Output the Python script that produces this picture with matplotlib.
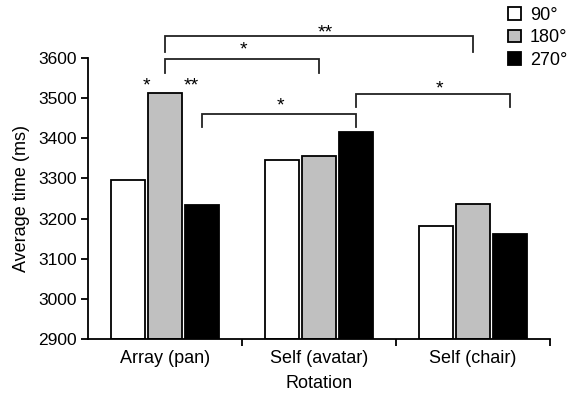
import matplotlib.pyplot as plt
from matplotlib.patches import Patch

plt.rcParams['font.family'] = ['Liberation Sans', 'DejaVu Sans']

categories = ['Array (pan)', 'Self (avatar)', 'Self (chair)']
series = ['90°', '180°', '270°']
values_90 = [3297, 3347, 3181]
values_180 = [3512, 3355, 3236]
values_270 = [3233, 3417, 3162]
colors = ['white', '#c0c0c0', 'black']

# significance brackets: (cat1, series1, cat2, series2, line level, leg bottom, label x, label y, label)
brackets = [
    (0, 1, 2, 1, 3655, 3615, 1.04, 3651, '**'),
    (0, 1, 1, 1, 3598, 3563, 0.51, 3608, '*'),
    (0, 2, 1, 2, 3461, 3429, 0.75, 3469, '*'),
    (1, 2, 2, 2, 3511, 3477, 1.78, 3513, '*'),
]
# stars above single bars: (x in category units, value, label)
bar_stars = [(-0.123, 3520, '*'), (0.169, 3520, '**')]

fig = plt.figure(figsize=(5.71, 4.01), dpi=100)
ax = fig.add_axes([0.154, 0.155, 0.809, 0.70])

pitch = 0.24
width = 0.225
xs = list(range(len(categories)))
all_vals = [values_90, values_180, values_270]
handles = []
for k, vals in enumerate(all_vals):
    pos = [x + (k - 1) * pitch for x in xs]
    ax.bar(pos, [v - 2900 for v in vals], bottom=2900, width=width,
           color=colors[k], edgecolor='black', linewidth=1.3, zorder=2)
    handles.append(Patch(facecolor=colors[k], edgecolor='black', linewidth=1.3, label=series[k]))

ax.set_xlim(-0.5, 2.5)
ax.set_ylim(2900, 3600)
ax.set_yticks(range(2900, 3601, 100))
ax.set_xticks(xs)
ax.set_xticklabels(categories)
ax.set_xticks([0.5, 1.5, 2.5], minor=True)
ax.tick_params(axis='x', which='major', length=0, pad=8, labelsize=13)
ax.tick_params(axis='x', which='minor', length=5, width=1.3, direction='out')
ax.tick_params(axis='y', length=5, width=1.3, direction='out', labelsize=12.5, pad=3)
for s in ['top', 'right']:
    ax.spines[s].set_visible(False)
for s in ['left', 'bottom']:
    ax.spines[s].set_linewidth(1.3)
ax.set_xlabel('Rotation', fontsize=13, labelpad=6)
ax.set_ylabel('Average time (ms)', fontsize=13, labelpad=6)

for c1, s1, c2, s2, top, bot, lx, ly, lab in brackets:
    x1 = c1 + (s1 - 1) * pitch
    x2 = c2 + (s2 - 1) * pitch
    ax.plot([x1, x1, x2, x2], [bot, top, top, bot], color='#222222', lw=1.3,
            clip_on=False, solid_joinstyle='miter')
    ax.text(lx, ly, lab, ha='center', va='baseline', fontsize=14, clip_on=False)

for x, y, lab in bar_stars:
    ax.text(x, y, lab, ha='center', va='baseline', fontsize=14)

fig.legend(handles=handles, loc='upper right', bbox_to_anchor=(1.013, 1.01),
           frameon=False, fontsize=13, handlelength=0.7, handleheight=0.7,
           handletextpad=0.5, labelspacing=0.3, borderaxespad=0.2)

fig.savefig('out.png', dpi=100)
